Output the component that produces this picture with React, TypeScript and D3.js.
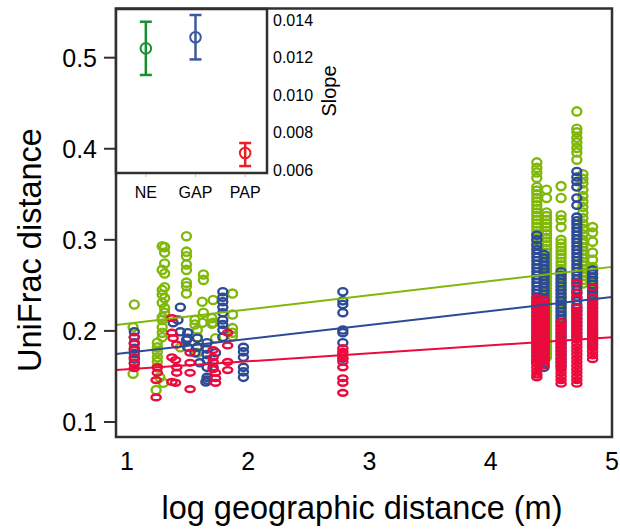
import React, { useRef, useEffect } from "react";
import * as d3 from "d3";

// groups: NE, GAP, PAP
const groups = ["NE", "GAP", "PAP"];
const pointColors = ["#80b80a", "#2d4a96", "#ec0a3c"];
const insetColors = ["#17902f", "#3c5aa0", "#ee1c24"];

// [log distance, UniFrac distances]
const neColumns: [number, number[]][] = [
  [1.05, [0.204, 0.153]],
  [1.06, [0.229]],
  [1.24, [0.135]],
  [1.25, [0.187, 0.182, 0.177, 0.171, 0.166, 0.16]],
  [1.27, [0.149]],
  [1.29, [0.293, 0.267, 0.245, 0.24, 0.231, 0.215, 0.212, 0.204, 0.198, 0.193]],
  [1.3, [0.143]],
  [1.31, [0.292, 0.286, 0.274, 0.263, 0.248, 0.236, 0.225, 0.22]],
  [1.44, [0.182]],
  [1.49, [0.304, 0.287, 0.282, 0.273, 0.267, 0.253, 0.249, 0.241]],
  [1.56, [0.212, 0.207]],
  [1.58, [0.201, 0.193, 0.182, 0.176]],
  [1.62, [0.232, 0.209]],
  [1.63, [0.262, 0.256, 0.22]],
  [1.7, [0.214, 0.208]],
  [1.71, [0.234, 0.209]],
  [1.73, [0.192]],
  [1.87, [0.241, 0.218, 0.203, 0.198, 0.194]],
  [4.38, [0.385, 0.379, 0.374, 0.368, 0.358, 0.354, 0.35, 0.346, 0.342, 0.338, 0.334, 0.33, 0.326, 0.322, 0.318, 0.314, 0.31, 0.306, 0.302, 0.298, 0.294, 0.29]],
  [4.46, [0.355, 0.346, 0.33, 0.326, 0.322, 0.318, 0.314, 0.31, 0.306, 0.302, 0.298, 0.294, 0.29, 0.286, 0.282, 0.278, 0.274, 0.27, 0.266, 0.262, 0.258, 0.254, 0.25, 0.246, 0.242, 0.238, 0.234, 0.23, 0.226, 0.222, 0.218, 0.214, 0.21, 0.206, 0.202, 0.198, 0.194, 0.19, 0.186, 0.182, 0.178, 0.174, 0.171]],
  [4.58, [0.359, 0.346, 0.327, 0.322, 0.314, 0.3, 0.296, 0.292, 0.288, 0.284, 0.28, 0.276, 0.272, 0.268, 0.264, 0.26, 0.256, 0.252, 0.248, 0.244, 0.24, 0.236, 0.232, 0.228, 0.224, 0.22, 0.216, 0.212]],
  [4.71, [0.441, 0.422, 0.418, 0.412, 0.407, 0.401, 0.396, 0.388]],
  [4.76, [0.372, 0.367, 0.362, 0.355, 0.348, 0.342, 0.336, 0.33, 0.324, 0.318, 0.312, 0.306, 0.3, 0.296, 0.292, 0.288, 0.284, 0.28, 0.276, 0.272, 0.268, 0.264, 0.26, 0.256, 0.252]],
  [4.84, [0.314, 0.308, 0.298, 0.286, 0.278, 0.27, 0.266, 0.262, 0.258, 0.254, 0.25, 0.246, 0.242, 0.238, 0.234, 0.23, 0.226]],
];

const gapColumns: [number, number[]][] = [
  [1.06, [0.199, 0.193, 0.187, 0.181, 0.175, 0.169, 0.164]],
  [1.38, [0.209]],
  [1.42, [0.212]],
  [1.44, [0.226, 0.199]],
  [1.49, [0.19]],
  [1.5, [0.198, 0.192, 0.182]],
  [1.56, [0.176]],
  [1.58, [0.192, 0.182]],
  [1.6, [0.165]],
  [1.65, [0.144]],
  [1.66, [0.187, 0.18, 0.174, 0.168, 0.16, 0.149, 0.146]],
  [1.71, [0.16]],
  [1.73, [0.176]],
  [1.79, [0.243, 0.237, 0.232, 0.226, 0.22, 0.212, 0.207, 0.201, 0.193]],
  [1.96, [0.182, 0.177, 0.171, 0.16, 0.155, 0.149]],
  [2.78, [0.243, 0.233, 0.229, 0.22, 0.201, 0.198, 0.187, 0.17]],
  [4.38, [0.305, 0.3, 0.294, 0.289, 0.285, 0.281, 0.277, 0.273, 0.269, 0.265, 0.261, 0.257, 0.253, 0.249, 0.245, 0.241, 0.237, 0.233, 0.229, 0.225, 0.221, 0.217, 0.213, 0.209, 0.205, 0.201, 0.197, 0.193, 0.189, 0.185, 0.181, 0.177, 0.173, 0.169, 0.165]],
  [4.44, [0.284, 0.28, 0.276, 0.272, 0.268, 0.264, 0.26, 0.256, 0.252, 0.248, 0.244, 0.24, 0.236, 0.232, 0.228, 0.224, 0.22, 0.216, 0.212, 0.208, 0.204, 0.2, 0.196, 0.192, 0.188, 0.184, 0.18, 0.176, 0.172, 0.168, 0.164, 0.16]],
  [4.58, [0.265, 0.261, 0.257, 0.253, 0.249, 0.245, 0.241, 0.237, 0.233, 0.229, 0.225, 0.221, 0.217, 0.213, 0.209, 0.205, 0.201, 0.197, 0.193, 0.189, 0.185, 0.181, 0.177, 0.173, 0.169, 0.165, 0.161]],
  [4.71, [0.375, 0.369, 0.364, 0.358, 0.346, 0.338, 0.325, 0.321, 0.317, 0.313, 0.309, 0.305, 0.301, 0.297, 0.293, 0.289, 0.285, 0.281, 0.277, 0.273, 0.269, 0.265, 0.261, 0.257, 0.253, 0.249, 0.245, 0.241, 0.237, 0.233, 0.229, 0.225, 0.221, 0.217, 0.213, 0.209, 0.205, 0.201, 0.197, 0.193]],
  [4.84, [0.267, 0.263, 0.259, 0.255, 0.251, 0.247, 0.243, 0.239, 0.235, 0.231, 0.227, 0.223, 0.219, 0.215, 0.211, 0.207, 0.203, 0.199, 0.195, 0.191, 0.187, 0.183]],
];

const papColumns: [number, number[]][] = [
  [1.06, [0.193, 0.186, 0.179, 0.171, 0.165, 0.159]],
  [1.24, [0.146, 0.127]],
  [1.25, [0.16, 0.154]],
  [1.37, [0.214, 0.198, 0.171, 0.144]],
  [1.38, [0.192]],
  [1.4, [0.168, 0.143]],
  [1.41, [0.185, 0.16, 0.154]],
  [1.52, [0.176, 0.165, 0.154, 0.136]],
  [1.71, [0.179, 0.171, 0.166, 0.158]],
  [1.73, [0.154, 0.148, 0.143]],
  [1.83, [0.198, 0.184, 0.166, 0.157]],
  [2.78, [0.181, 0.177, 0.174, 0.17, 0.166, 0.16, 0.148, 0.143, 0.132]],
  [4.38, [0.236, 0.232, 0.228, 0.224, 0.22, 0.216, 0.212, 0.208, 0.204, 0.2, 0.196, 0.192, 0.188, 0.184, 0.18, 0.176, 0.172, 0.168, 0.164, 0.16, 0.156, 0.152, 0.149]],
  [4.44, [0.234, 0.23, 0.226, 0.222, 0.218, 0.214, 0.21, 0.206, 0.202, 0.198, 0.194, 0.19, 0.186, 0.182, 0.178, 0.174, 0.17, 0.166, 0.162]],
  [4.58, [0.21, 0.206, 0.202, 0.198, 0.194, 0.19, 0.186, 0.182, 0.178, 0.174, 0.17, 0.166, 0.162, 0.158, 0.154, 0.15, 0.146, 0.142]],
  [4.71, [0.253, 0.242, 0.236, 0.226, 0.222, 0.218, 0.214, 0.21, 0.206, 0.202, 0.198, 0.194, 0.19, 0.186, 0.182, 0.178, 0.174, 0.17, 0.166, 0.162, 0.158, 0.154, 0.15, 0.146, 0.142]],
  [4.84, [0.248, 0.237, 0.233, 0.229, 0.225, 0.221, 0.217, 0.213, 0.209, 0.205, 0.201, 0.197, 0.193, 0.189, 0.185, 0.181, 0.177, 0.173, 0.169]],
];

// regression fits: intercept + slope * x
const fitIntercepts = [0.1923, 0.1607, 0.149];
const fitSlopes = [0.0156, 0.0153, 0.0088];

// inset: slope estimates with error bars
const slopeMeans = [0.01249, 0.01308, 0.00691];
const slopeLow = [0.01107, 0.0119, 0.00621];
const slopeHigh = [0.01391, 0.01427, 0.00744];

const xTicks = [1, 2, 3, 4, 5];
const yTicks = [0.1, 0.2, 0.3, 0.4, 0.5];
const slopeTicks = [0.006, 0.008, 0.01, 0.012, 0.014];

const FONT = "'Liberation Sans', Arial, sans-serif";

const App = () => {
  const svgRef = useRef<SVGSVGElement>(null);

  useEffect(() => {
    document.body.style.margin = "0";
    const svg = d3.select(svgRef.current);
    svg.selectAll("*").remove();

    const left = 116, right = 612, top = 8.5, bottom = 437;
    const x = d3.scaleLinear().domain([0.909, 5]).range([left, right]);
    const y = d3.scaleLinear().domain([0.0835, 0.554]).range([bottom, top]);
    const frame = "#332f2f";

    svg.append("rect").attr("width", 620).attr("height", 529).attr("fill", "#fff");

    // points: green, then blue, then red on top
    const rx = [4.5, 4.5, 4.6];
    const ry = [4.1, 3.6, 2.9];
    [neColumns, gapColumns, papColumns].forEach((cols, i) => {
      const pts = cols.flatMap(([cx, ys]) => ys.map((v) => [cx, v] as [number, number]));
      svg.append("g")
        .selectAll("ellipse")
        .data(pts)
        .enter().append("ellipse")
        .attr("cx", (d) => x(d[0]))
        .attr("cy", (d) => y(d[1]))
        .attr("rx", rx[i])
        .attr("ry", ry[i])
        .attr("fill", "none")
        .attr("stroke", pointColors[i])
        .attr("stroke-width", 2.4);
    });

    // fitted lines
    groups.forEach((_, i) => {
      const [x0, x1] = x.domain();
      svg.append("line")
        .attr("x1", x(x0)).attr("x2", x(x1))
        .attr("y1", y(fitIntercepts[i] + fitSlopes[i] * x0))
        .attr("y2", y(fitIntercepts[i] + fitSlopes[i] * x1))
        .attr("stroke", pointColors[i])
        .attr("stroke-width", 2);
    });

    // frame
    svg.append("rect")
      .attr("x", left).attr("y", top)
      .attr("width", right - left).attr("height", bottom - top)
      .attr("fill", "none").attr("stroke", frame).attr("stroke-width", 2.5);

    // y axis ticks
    const yg = svg.append("g");
    yg.selectAll("line").data(yTicks).enter().append("line")
      .attr("x1", left - 12).attr("x2", left)
      .attr("y1", (d) => y(d)).attr("y2", (d) => y(d))
      .attr("stroke", frame).attr("stroke-width", 2);
    yg.selectAll("text").data(yTicks).enter().append("text")
      .attr("x", left - 19).attr("y", (d) => y(d))
      .attr("dy", "0.36em")
      .attr("text-anchor", "end")
      .attr("font-family", FONT).attr("font-size", 25)
      .text((d) => d3.format(".1f")(d));

    svg.append("g").selectAll("text").data(xTicks).enter().append("text")
      .attr("x", (d) => x(d)).attr("y", bottom + 24)
      .attr("dy", "0.36em")
      .attr("text-anchor", "middle")
      .attr("font-family", FONT).attr("font-size", 25)
      .text((d) => d);

    svg.append("text")
      .attr("transform", `translate(41,250) rotate(-90)`)
      .attr("text-anchor", "middle")
      .attr("font-family", FONT).attr("font-size", 32.5)
      .text("UniFrac distance");

    svg.append("text")
      .attr("x", 362).attr("y", 519)
      .attr("text-anchor", "middle")
      .attr("font-family", FONT).attr("font-size", 32.5)
      .text("log geographic distance (m)");

    // inset
    const iLeft = left, iRight = 267, iTop = 9, iBottom = 173;
    const ix = d3.scalePoint<string>().domain(groups).range([121, 270]).padding(0.5);
    const iy = d3.scaleLinear().domain([0.00584, 0.01459]).range([iBottom, iTop]);

    svg.append("rect")
      .attr("x", iLeft).attr("y", iTop)
      .attr("width", iRight - iLeft).attr("height", iBottom - iTop)
      .attr("fill", "#fff").attr("stroke", frame).attr("stroke-width", 2.5);

    const ig = svg.append("g");
    groups.forEach((g, i) => {
      const cx = ix(g) as number;
      const col = insetColors[i];
      ig.append("line")
        .attr("x1", cx).attr("x2", cx)
        .attr("y1", iy(slopeLow[i])).attr("y2", iy(slopeHigh[i]))
        .attr("stroke", col).attr("stroke-width", 2.5);
      [slopeLow[i], slopeHigh[i]].forEach((v) => {
        ig.append("line")
          .attr("x1", cx - 6).attr("x2", cx + 6)
          .attr("y1", iy(v)).attr("y2", iy(v))
          .attr("stroke", col).attr("stroke-width", 2.5);
      });
      ig.append("circle")
        .attr("cx", cx).attr("cy", iy(slopeMeans[i]))
        .attr("r", 5.3)
        .attr("fill", "none").attr("stroke", col).attr("stroke-width", 2);
      ig.append("line")
        .attr("x1", cx).attr("x2", cx)
        .attr("y1", iBottom + 1).attr("y2", iBottom + 4)
        .attr("stroke", "#bbb").attr("stroke-width", 1);
      ig.append("text")
        .attr("x", cx).attr("y", iBottom + 19)
        .attr("dy", "0.36em")
        .attr("text-anchor", "middle")
        .attr("font-family", FONT).attr("font-size", 16)
        .text(g);
    });

    ig.selectAll("text.tick").data(slopeTicks).enter().append("text")
      .attr("class", "tick")
      .attr("x", iRight + 6).attr("y", (d) => iy(d))
      .attr("dy", "0.36em")
      .attr("font-family", FONT).attr("font-size", 16)
      .text((d) => d3.format(".3f")(d));

    ig.append("text")
      .attr("transform", `translate(336,91) rotate(-90)`)
      .attr("text-anchor", "middle")
      .attr("font-family", FONT).attr("font-size", 20)
      .text("Slope");
  }, []);

  return <svg ref={svgRef} width={620} height={529} style={{ display: "block" }}></svg>;
};

export default App;
